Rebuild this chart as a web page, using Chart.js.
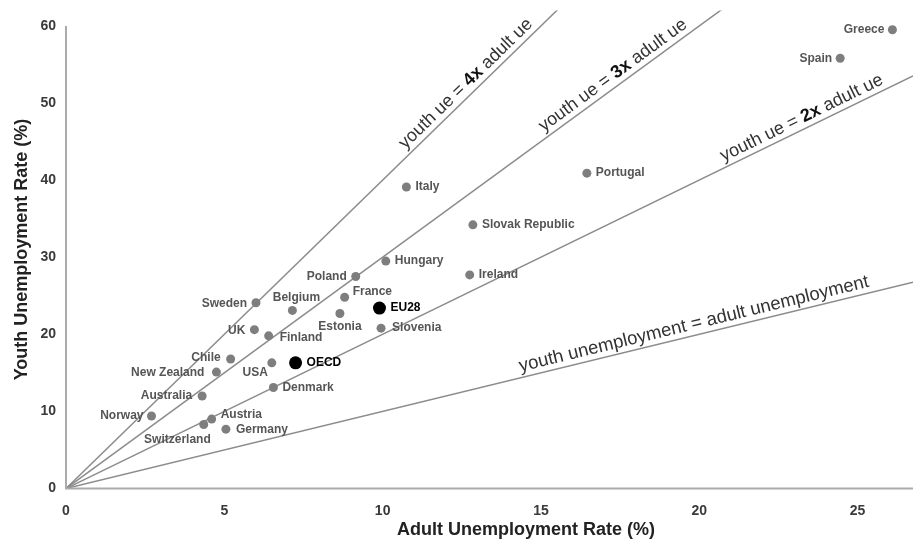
<!DOCTYPE html>
<html>
<head>
<meta charset="utf-8">
<script src="https://cdn.jsdelivr.net/npm/chart.js@4.4.0/dist/chart.umd.min.js"></script>
<style>
html,body{margin:0;padding:0;background:#ffffff;}
#wrap{width:921px;height:541px;position:relative;}
</style>
</head>
<body>
<div id="wrap"><canvas id="c"></canvas></div>
<script>
// ---- data ----
const countries = ['Greece','Spain','Portugal','Italy','Slovak Republic','Hungary','Poland','Ireland','France','EU28','Estonia','Slovenia','Sweden','Belgium','UK','Finland','Chile','USA','OECD','New Zealand','Australia','Denmark','Norway','Austria','Switzerland','Germany'];
const adultUnemployment = [26.1, 24.45, 16.45, 10.75, 12.85, 10.1, 9.15, 12.75, 8.8, 9.9, 8.65, 9.95, 6.0, 7.15, 5.95, 6.4, 5.2, 6.5, 7.25, 4.75, 4.3, 6.55, 2.7, 4.6, 4.35, 5.05];
const youthUnemployment = [59.5, 55.8, 40.9, 39.1, 34.2, 29.5, 27.5, 27.7, 24.8, 23.4, 22.7, 20.8, 24.1, 23.1, 20.6, 19.8, 16.8, 16.3, 16.3, 15.1, 12.0, 13.1, 9.4, 9.0, 8.3, 7.7];
const highlighted = ['EU28','OECD'];
const xTickValues = [0,5,10,15,20,25];
const yTickValues = [0,10,20,30,40,50,60];
const ratioMultipliers = [1,2,3,4];
const ratioLabelParts = [
  [['youth unemployment = adult unemployment', false]],
  [['youth ue = ', false], ['2x', true], [' adult ue', false]],
  [['youth ue = ', false], ['3x', true], [' adult ue', false]],
  [['youth ue = ', false], ['4x', true], [' adult ue', false]]
];
const xTitle = 'Adult Unemployment Rate (%)';
const yTitle = 'Youth Unemployment Rate (%)';

// ---- layout / style config ----
const X_MAX = 26.75, Y_MAX = 62, Y_AXIS_TOP = 60;
const ratioLabelStartX = [14.4, 20.85, 15.2, 10.85];
// [textAlign, dx, dy] relative to the point
const labelPlacement = {
  'Greece':['right',-8,0], 'Spain':['right',-8,0], 'Portugal':['left',9,0], 'Italy':['left',9,0],
  'Slovak Republic':['left',9,0], 'Hungary':['left',9,0], 'Poland':['right',-9,0], 'Ireland':['left',9,0],
  'France':['left',8,-6], 'EU28':['left',11,0], 'Estonia':['center',0,13], 'Slovenia':['left',11,0],
  'Sweden':['right',-9,1], 'Belgium':['center',4,-13], 'UK':['right',-9,1], 'Finland':['left',11,2],
  'Chile':['right',-10,-1], 'USA':['right',-4,10], 'OECD':['left',11,0], 'New Zealand':['right',-12,1],
  'Australia':['right',-10,0], 'Denmark':['left',9,0], 'Norway':['right',-8,0], 'Austria':['left',9,-4],
  'Switzerland':['right',7,15], 'Germany':['left',10,1]
};
const FONT = 'Helvetica, Arial, "Liberation Sans", sans-serif';

const points = countries.map((c,i)=>({x:adultUnemployment[i], y:youthUnemployment[i]}));
const lineDatasets = ratioMultipliers.map(k=>({
  type:'scatter', showLine:true, data:[{x:0,y:0},{x:X_MAX,y:k*X_MAX}],
  borderColor:'#8c8c8c', borderWidth:1.5, pointRadius:0, order:2, fill:false
}));

const annotPlugin = {
  id:'annot',
  afterDatasetsDraw(chart){
    const ctx = chart.ctx, xs = chart.scales.x, ys = chart.scales.y;
    ctx.save();
    // axis lines
    ctx.strokeStyle = '#ababab'; ctx.lineWidth = 2;
    const x0 = xs.getPixelForValue(0), y0 = ys.getPixelForValue(0);
    ctx.beginPath();
    ctx.moveTo(x0, ys.getPixelForValue(Y_AXIS_TOP));
    ctx.lineTo(x0, y0);
    ctx.lineTo(xs.getPixelForValue(X_MAX), y0);
    ctx.stroke();

    // ratio line labels
    ratioMultipliers.forEach((k,i)=>{
      const sx = ratioLabelStartX[i];
      const px = xs.getPixelForValue(sx), py = ys.getPixelForValue(k*sx);
      const qx = xs.getPixelForValue(sx+1), qy = ys.getPixelForValue(k*(sx+1));
      const ang = Math.atan2(qy-py, qx-px);
      ctx.save();
      ctx.translate(px,py); ctx.rotate(ang);
      ctx.textAlign='left'; ctx.textBaseline='alphabetic';
      let cx = 0;
      const size = i === 0 ? 18.5 : 18;
      ratioLabelParts[i].forEach(([t,b])=>{
        ctx.font = (b?'bold ':'') + size + 'px ' + FONT;
        ctx.fillStyle = b ? '#111111' : '#333333';
        ctx.fillText(t, cx, -6);
        cx += ctx.measureText(t).width;
      });
      ctx.restore();
    });

    // point labels
    const meta = chart.getDatasetMeta(0);
    meta.data.forEach((el,i)=>{
      const name = countries[i];
      const pl = labelPlacement[name] || ['left',9,0];
      const hi = highlighted.includes(name);
      ctx.font = 'bold 12px ' + FONT;
      ctx.fillStyle = hi ? '#000000' : '#555555';
      ctx.textAlign = pl[0]; ctx.textBaseline = 'middle';
      ctx.fillText(name, el.x + pl[1], el.y + pl[2]);
    });

    // axis titles
    ctx.font = 'bold 18px ' + FONT;
    ctx.fillStyle = '#222222';
    ctx.textAlign='center'; ctx.textBaseline='middle';
    ctx.fillText(xTitle, 526, 530);
    ctx.save();
    ctx.translate(22, (chart.chartArea.top + chart.chartArea.bottom)/2);
    ctx.rotate(-Math.PI/2);
    ctx.fillText(yTitle, 0, 0);
    ctx.restore();
    ctx.restore();
  }
};

new Chart(document.getElementById('c'), {
  type:'scatter',
  data:{
    datasets:[{
      label:'Countries', data:points, order:1,
      pointRadius: c => highlighted.includes(countries[c.dataIndex]) ? 6.5 : 4.5,
      pointBackgroundColor: c => highlighted.includes(countries[c.dataIndex]) ? '#000000' : '#7e7e7e',
      pointBorderWidth:0, pointBorderColor:'rgba(0,0,0,0)'
    }, ...lineDatasets]
  },
  options:{
    responsive:true, maintainAspectRatio:false, animation:false,
    layout:{padding:{left:0,right:8,top:10.5,bottom:0}},
    plugins:{legend:{display:false}, tooltip:{enabled:false}},
    scales:{
      x:{
        type:'linear', min:0, max:X_MAX,
        afterBuildTicks: s => { s.ticks = xTickValues.map(v=>({value:v})); },
        afterFit: s => { s.height = 52.5; s.paddingLeft = 0; s.paddingRight = 0; },
        grid:{display:false, drawTicks:false}, border:{display:false},
        ticks:{padding:14, color:'#3a3a3a', font:{family:FONT, size:14, weight:'bold'}, maxRotation:0}
      },
      y:{
        type:'linear', min:0, max:Y_MAX,
        afterBuildTicks: s => { s.ticks = yTickValues.map(v=>({value:v})); },
        afterFit: s => { s.width = 66; s.paddingTop = 0; s.paddingBottom = 0; },
        grid:{display:false, drawTicks:false}, border:{display:false},
        ticks:{padding:10, color:'#3a3a3a', font:{family:FONT, size:14, weight:'bold'}}
      }
    }
  },
  plugins:[annotPlugin]
});
</script>
</body>
</html>
